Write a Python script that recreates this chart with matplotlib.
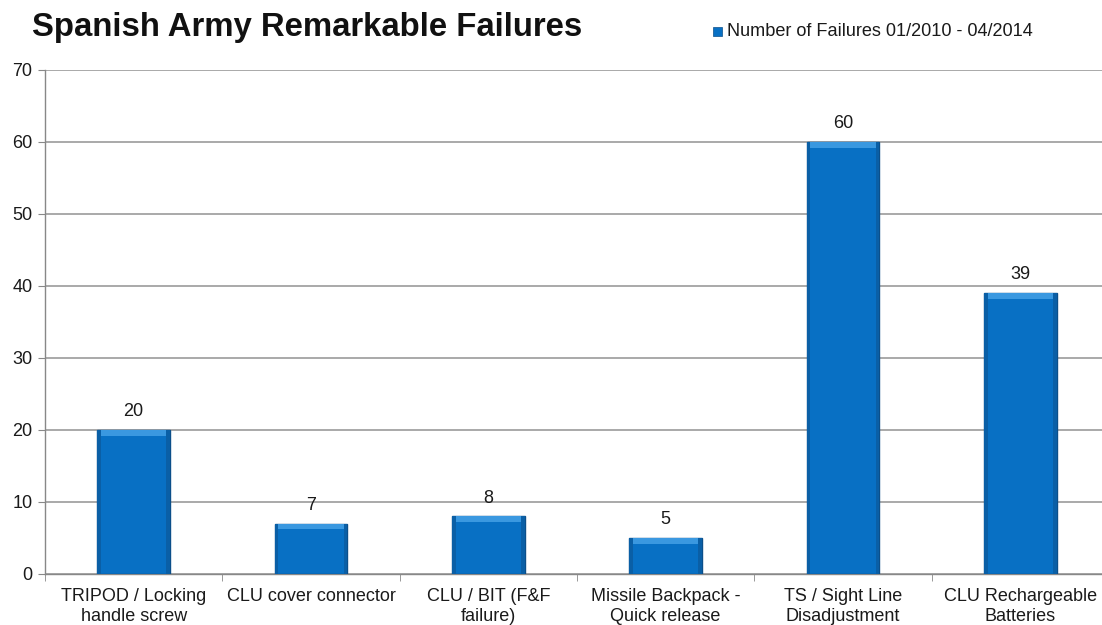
import matplotlib
matplotlib.use("Agg")
import matplotlib.pyplot as plt
from matplotlib.patches import Rectangle
import numpy as np

categories = ["TRIPOD / Locking\nhandle screw", "CLU cover connector", "CLU / BIT (F&F\nfailure)",
              "Missile Backpack -\nQuick release", "TS / Sight Line\nDisadjustment", "CLU Rechargeable\nBatteries"]
values = [20, 7, 8, 5, 60, 39]
yticks = [0, 10, 20, 30, 40, 50, 60, 70]
title = "Spanish Army Remarkable Failures"
legend_label = "Number of Failures 01/2010 - 04/2014"

plt.rcParams['font.family'] = ['Liberation Sans', 'DejaVu Sans']

fig = plt.figure(figsize=(11.02, 6.25), dpi=100)
ax = fig.add_axes([45/1102, 51/625, 1064/1102, 504/625])

x = np.arange(len(values))
bw = 0.41
face = "#0870C4"
ax.bar(x, values, width=bw, color=face, edgecolor="#0B4F8A", linewidth=1.0, zorder=3)
# bevel highlight on top and side shading
ax.bar(x, [0.8]*len(values), bottom=np.array(values) - 0.8, width=bw, color="#3A98E0",
       edgecolor="none", zorder=4)
ax.bar(x - bw/2 + bw*0.025, values, width=bw*0.05, color="#0A5FA6", edgecolor="none", zorder=4)
ax.bar(x + bw/2 - bw*0.025, values, width=bw*0.05, color="#0A5FA6", edgecolor="none", zorder=4)

for xi, v in zip(x, values):
    ax.annotate(str(v), (xi, v), xytext=(0, 7), textcoords="offset points",
                ha="center", va="bottom", fontsize=13, color="#1A1A1A")

ax.set_xlim(-0.5, len(values) - 0.5)
ax.set_ylim(0, 70)
ax.set_yticks(yticks)
ax.yaxis.grid(True, color="#A9A9A9", linewidth=1.4, zorder=0)
ax.set_axisbelow(True)
for s in ["top", "right"]:
    ax.spines[s].set_visible(False)
ax.spines["left"].set_color("#888888")
ax.spines["bottom"].set_color("#888888")
ax.spines["left"].set_linewidth(1.0)
ax.spines["bottom"].set_linewidth(1.0)

ax.set_xticks(x)
ax.set_xticklabels(categories, fontsize=13, color="#1A1A1A", linespacing=1.25)
ax.tick_params(axis="x", length=0, pad=10)
ax.set_xticks(np.arange(-0.5, len(values), 1.0), minor=True)
ax.tick_params(axis="x", which="minor", length=5, color="#888888")
ax.tick_params(axis="y", length=5, color="#888888", labelsize=13, labelcolor="#1A1A1A", pad=4)

fig.text(32/1102, 1 - 36/625, title, fontsize=23.7, fontweight="bold", ha="left", va="baseline",
         color="#111111")
fig.patches.append(Rectangle((713/1102, 1 - 36/625), 9/1102, 9/625, transform=fig.transFigure,
                             facecolor=face, edgecolor="#0B4F8A", linewidth=0.5))
fig.text(727/1102, 1 - 36.5/625, legend_label, fontsize=13.1, ha="left", va="baseline", color="#1A1A1A")

fig.savefig("out.png", dpi=100)
